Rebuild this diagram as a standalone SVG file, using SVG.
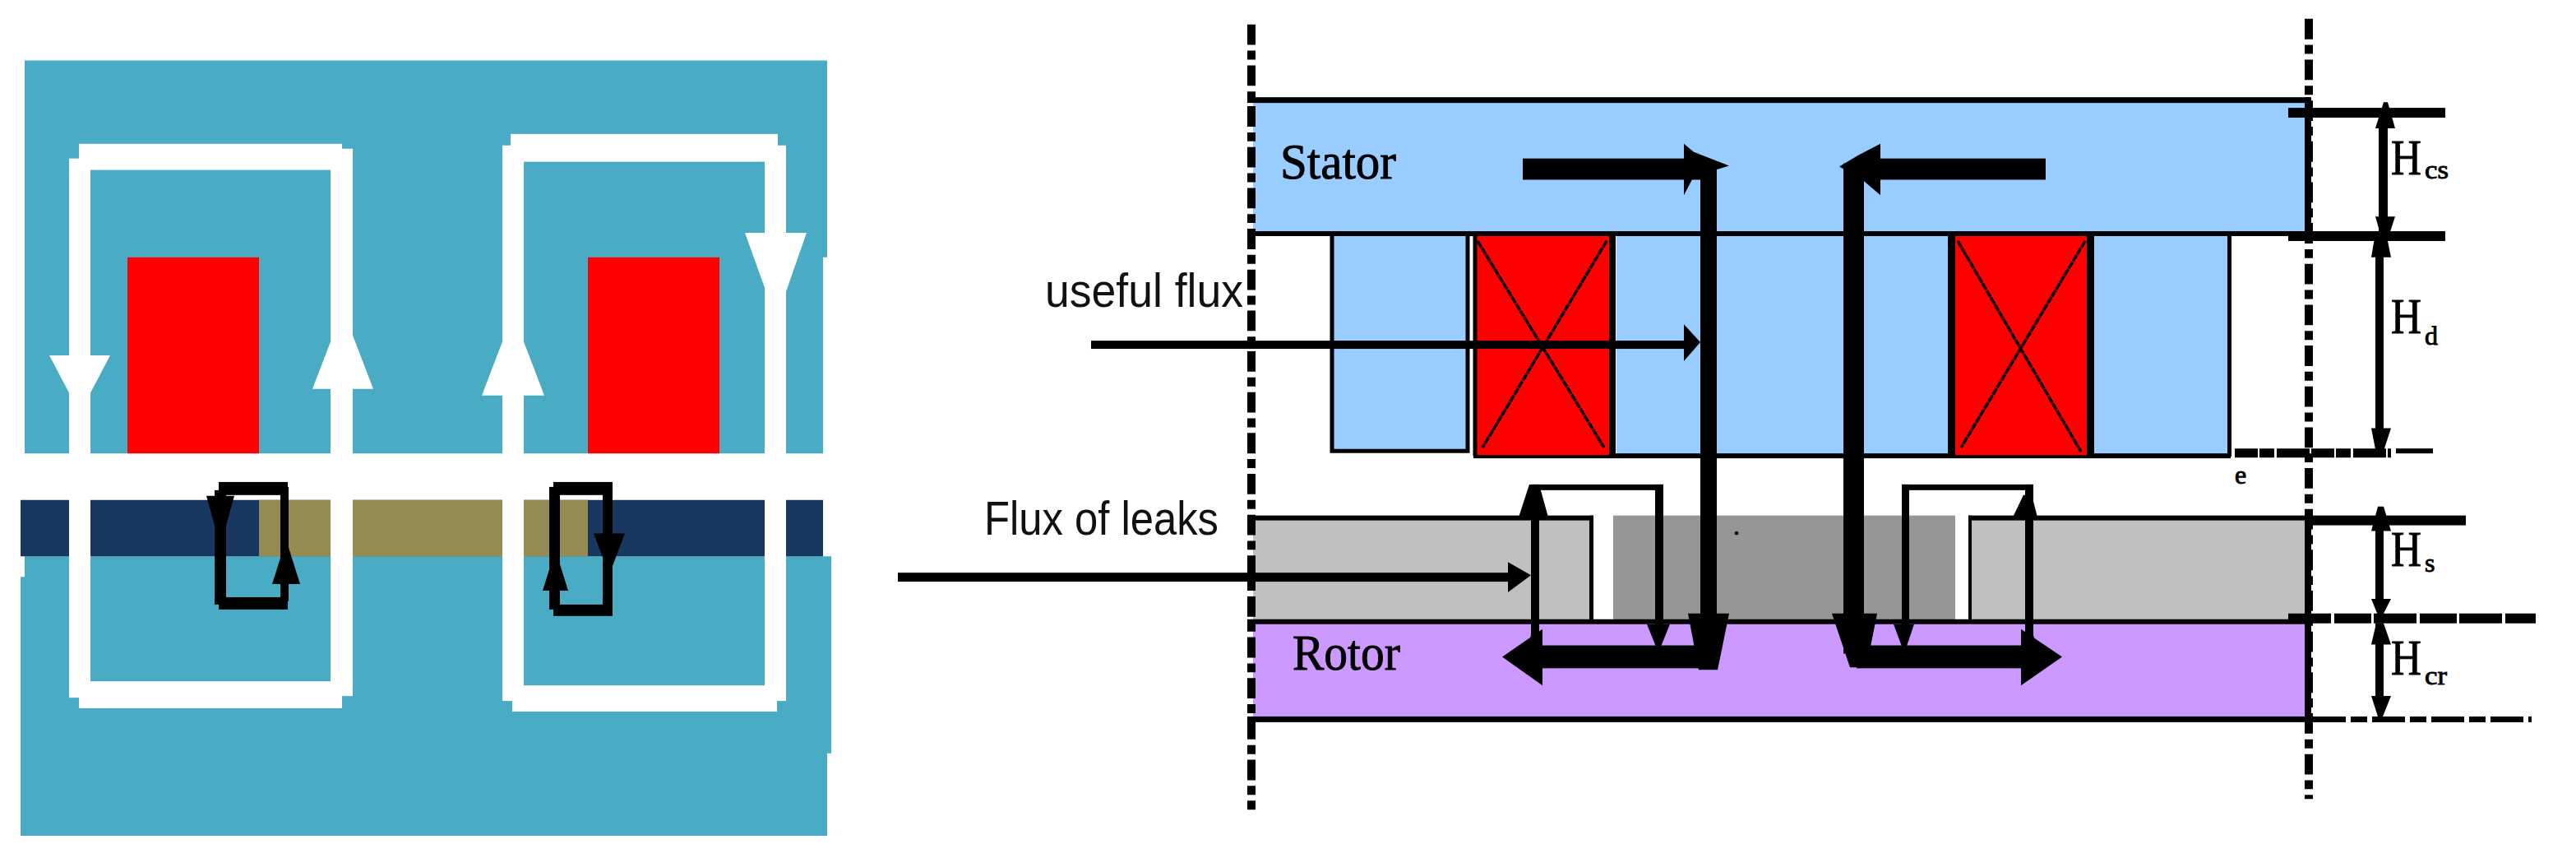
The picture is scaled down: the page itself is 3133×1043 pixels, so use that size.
<svg xmlns="http://www.w3.org/2000/svg" width="3133" height="1043" viewBox="0 0 3133 1043">
<style>
.teal{fill:#4AABC5}.red{fill:#FF0000}.navy{fill:#17375E}.olive{fill:#948A54}.w{fill:#FFFFFF}.k{fill:#000000}
.blue{fill:#99CCFF}.gray{fill:#C0C0C0}.dark{fill:#969696}.purple{fill:#CC99FF}
.axis{stroke:#000;stroke-width:10;stroke-dasharray:25 7 11 7;fill:none}
.dash{stroke:#000;fill:none}
.sans{font-family:"Liberation Sans",Arial,sans-serif;font-size:57px;fill:#111}
.serif{font-family:"Liberation Serif","Times New Roman",serif;fill:#000;stroke:#000;stroke-width:.9px}
.big{font-size:62px}.h{font-size:62px}.sub{font-size:32px}
</style>
<rect width="3133" height="1043" fill="#FFFFFF"/>
<g transform="scale(1 .9931)">
<g id="left-machine">
<path class="teal" d="M30 74H1006V315H1001V555H30Z"/>
<path class="teal" d="M30 681H1011V922H1006V1023H25V706H30Z"/>
<rect class="red" x="155" y="315" width="160" height="240"/>
<rect class="red" x="715" y="315" width="160" height="240"/>
<rect class="navy" x="25" y="612" width="976" height="69"/>
<rect class="olive" x="315" y="612" width="400" height="69"/>
</g>
<g id="connectors-left">
<g id="flux-left-white">
<rect class="w" x="96" y="176" width="320" height="32"/>
<rect class="w" x="84" y="194" width="26" height="660"/>
<rect class="w" x="402" y="182" width="27" height="670"/>
<rect class="w" x="96" y="834" width="320" height="33"/>
<polygon class="w" points="60,435 134,435 100,500 94,500"/>
<polygon class="w" points="380,476 454,476 420,387 414,387"/>
</g>
<g id="flux-right-white">
<rect class="w" x="621" y="164" width="325" height="34"/>
<rect class="w" x="611" y="178" width="26" height="680"/>
<rect class="w" x="930" y="178" width="26" height="680"/>
<rect class="w" x="623" y="839" width="322" height="32"/>
<polygon class="w" points="586,484 662,484 627,392 621,392"/>
<polygon class="w" points="906,285 981,285 947,383 941,383"/>
</g>
<g id="leak-left-black">
<rect class="k" x="266" y="590" width="84" height="16"/>
<rect class="k" x="261" y="600" width="14" height="140"/>
<rect class="k" x="341" y="596" width="10" height="140"/>
<rect class="k" x="266" y="731" width="84" height="15"/>
<polygon class="k" points="251,607 285,607 270,661 266,661"/>
<polygon class="k" points="331,715 365,715 350,667 346,667"/>
</g>
<g id="leak-right-black">
<rect class="k" x="673" y="590" width="72" height="16"/>
<rect class="k" x="668" y="596" width="13" height="150"/>
<rect class="k" x="733" y="596" width="12" height="150"/>
<rect class="k" x="673" y="740" width="72" height="14"/>
<polygon class="k" points="660,723 691,723 677,678 674,678"/>
<polygon class="k" points="722,653 760,653 743,698 739,698"/>
</g>
</g>
<g id="stator">
<rect class="blue" x="1524" y="122" width="1285" height="164"/>
<rect class="blue" x="1620" y="289" width="165" height="262"/>
<rect class="blue" x="1966" y="289" width="403" height="268"/>
<rect class="blue" x="2547" y="289" width="164" height="268"/>
<rect class="k" x="1517" y="119" width="1293" height="7"/>
<rect class="k" x="1517" y="283" width="1293" height="6"/>
<path class="dash" stroke-width="5" d="M1620 289V552H1785V289"/>
<rect class="k" x="1792" y="555" width="921" height="6"/>
<rect class="k" x="2709" y="289" width="5" height="270"/>
<rect class="k" x="2803" y="119" width="8" height="167"/>
<text class="serif big" x="1557" y="219" textLength="141" lengthAdjust="spacingAndGlyphs">Stator</text>
</g>
<g id="coil-left">
<rect class="red" x="1795" y="289" width="165" height="268"/>
<path class="dash" stroke-width="5" d="M1794 289V558"/>
<path class="dash" stroke-width="8" d="M1961 289V558"/>
<path class="dash" stroke-width="3.500" stroke-dasharray="9 1" d="M1797 295L1951 548M1954 295L1803 548"/>
</g>
<g id="coil-right">
<rect class="red" x="2378" y="289" width="160" height="268"/>
<path class="dash" stroke-width="9" d="M2373.500 289V558M2542.500 289V558"/>
<path class="dash" stroke-width="3.500" stroke-dasharray="9 1" d="M2381 295L2531 553M2536 295L2385 548"/>
</g>
<g id="rotor">
<rect class="gray" x="1524" y="634" width="411" height="126"/>
<rect class="dark" x="1962" y="631" width="416" height="128"/>
<rect class="gray" x="2396" y="634" width="412" height="126"/>
<rect class="purple" x="1524" y="761" width="1287" height="119"/>
<rect class="k" x="1517" y="631" width="421" height="6"/>
<rect class="k" x="1933" y="631" width="5" height="128"/>
<rect class="k" x="2394" y="631" width="416" height="6"/>
<rect class="k" x="2394" y="631" width="4" height="128"/>
<rect class="k" x="1517" y="758" width="1293" height="6"/>
<rect class="k" x="1517" y="877" width="1293" height="7"/>
<rect class="k" x="2803" y="631" width="8" height="250"/>
<text class="serif big" x="1572" y="820" textLength="131" lengthAdjust="spacingAndGlyphs">Rotor</text>
</g>
<g id="axes">
<path class="axis" d="M1522 30V991"/>
<path class="axis" d="M2808 23V978"/>
</g>
<g id="connectors-right">
<g id="main-flux-left">
<rect class="k" x="1852" y="194" width="225" height="26"/>
<polygon class="k" points="2048,176 2060,186 2103,203 2060,216 2048,239"/>
<rect class="k" x="2068" y="200" width="20" height="600"/>
<polygon class="k" points="2053,751 2103,751 2089,820 2066,820"/>
<rect class="k" x="1860" y="790" width="220" height="28"/>
<polygon class="k" points="1876,770 1876,839 1827,804"/>
</g>
<g id="main-flux-right">
<rect class="k" x="2255" y="194" width="233" height="26"/>
<polygon class="k" points="2287,176 2287,239 2265,220 2237,204 2260,190"/>
<rect class="k" x="2242" y="200" width="25" height="600"/>
<polygon class="k" points="2228,751 2283,751 2270,817 2250,817"/>
<rect class="k" x="2258" y="790" width="210" height="28"/>
<polygon class="k" points="2458,770 2458,839 2508,804"/>
</g>
<g id="useful-flux-arrow">
<rect class="k" x="1327" y="417" width="725" height="10"/>
<polygon class="k" points="2048,397 2068,419 2048,442"/>
</g>
<g id="leak-flux-arrow">
<rect class="k" x="1092" y="701" width="745" height="11"/>
<polygon class="k" points="1834,688 1862,704 1834,725"/>
</g>
<g id="leak-loop-left">
<rect class="k" x="1862" y="593" width="161" height="7"/>
<rect class="k" x="1862" y="593" width="10" height="205"/>
<rect class="k" x="2013" y="593" width="10" height="172"/>
<polygon class="k" points="1847,633 1883,633 1872,593 1860,593"/>
<polygon class="k" points="2003,764 2031,764 2019,794 2015,794"/>
<polygon class="k" points="1859,790 1876,790 1876,777 1862,777"/>
</g>
<g id="leak-loop-right">
<rect class="k" x="2313" y="593" width="160" height="7"/>
<rect class="k" x="2313" y="593" width="9" height="172"/>
<rect class="k" x="2463" y="593" width="10" height="205"/>
<polygon class="k" points="2303,764 2328,764 2318,794 2314,794"/>
<polygon class="k" points="2448,633 2478,633 2471,606 2461,606"/>
<polygon class="k" points="2458,790 2476,790 2473,777 2459,777"/>
</g>
</g>
<g id="dimensions">
<rect class="k" x="2783" y="132" width="191" height="12"/>
<rect class="k" x="2783" y="283" width="191" height="12"/>
<rect class="k" x="2810" y="631" width="189" height="12"/>
<path class="dash" stroke-width="11" stroke-dasharray="28 2 18 3 40 2" d="M2718 554.500H2908"/>
<rect class="k" x="2914" y="549" width="45" height="6"/>
<path class="dash" stroke-width="12" stroke-dasharray="52 4 45 3" d="M2783 757H3084"/>
<path class="dash" stroke-width="7" stroke-dasharray="40 6 20 6" d="M2813 880.500H3079"/>
<g id="dim-hcs">
<rect class="k" x="2893" y="140" width="11" height="145"/>
<polygon class="k" points="2889,157 2913,157 2904,125 2899,125"/>
<polygon class="k" points="2889,265 2913,265 2905,290 2896,290"/>
</g>
<g id="dim-hd">
<rect class="k" x="2889" y="295" width="10" height="250"/>
<polygon class="k" points="2884,315 2908,315 2902,285 2889,285"/>
<polygon class="k" points="2884,524 2908,524 2898,555 2890,555"/>
</g>
<g id="dim-hs">
<rect class="k" x="2889" y="643" width="10" height="100"/>
<polygon class="k" points="2884,650 2908,650 2899,620 2892,620"/>
<polygon class="k" points="2884,733 2908,733 2898,753 2892,753"/>
</g>
<g id="dim-hcr">
<rect class="k" x="2889" y="763" width="10" height="100"/>
<polygon class="k" points="2884,789 2908,789 2899,763 2890,763"/>
<polygon class="k" points="2884,852 2908,852 2898,877 2892,877"/>
</g>
</g>
<g id="labels">
<text class="sans" x="1271" y="376" textLength="241" lengthAdjust="spacingAndGlyphs">useful flux</text>
<text class="sans" x="1197" y="655" textLength="285" lengthAdjust="spacingAndGlyphs">Flux of leaks</text>
<text class="serif h" x="2908" y="213" textLength="37" lengthAdjust="spacingAndGlyphs">H</text>
<text class="serif sub" x="2949" y="219" textLength="29" lengthAdjust="spacingAndGlyphs">cs</text>
<text class="serif h" x="2908" y="408" textLength="37" lengthAdjust="spacingAndGlyphs">H</text>
<text class="serif sub" x="2949" y="422">d</text>
<text class="serif h" x="2908" y="693" textLength="37" lengthAdjust="spacingAndGlyphs">H</text>
<text class="serif sub" x="2949" y="700">s</text>
<text class="serif h" x="2908" y="826" textLength="37" lengthAdjust="spacingAndGlyphs">H</text>
<text class="serif sub" x="2949" y="838" textLength="27" lengthAdjust="spacingAndGlyphs">cr</text>
<text class="serif sub" x="2718" y="592">e</text>
<text class="serif sub" x="2108" y="655">.</text>
</g>
</g>
</svg>
